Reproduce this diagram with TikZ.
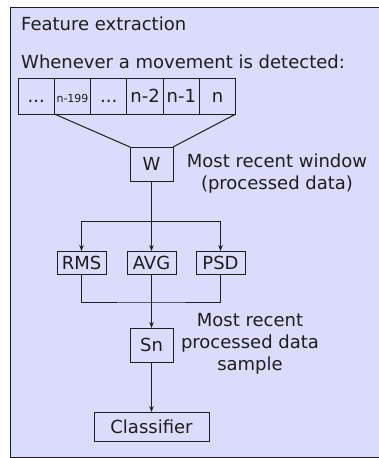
\documentclass[tikz,border=0pt]{standalone}
\usepackage{fontspec}
\setmainfont{DejaVu Sans}
\usetikzlibrary{arrows.meta,positioning}
\definecolor{panel}{RGB}{219,219,251}
\definecolor{ink}{RGB}{30,30,30}

\begin{document}
\begin{tikzpicture}[x=1pt,y=1pt,>={Stealth[length=6pt,width=4.5pt]},
    every node/.style={font=\fontsize{18}{22}\selectfont,text=ink},
    wire/.style={draw=ink,line width=1pt},
    box/.style={wire,inner sep=0pt,outer sep=0pt},
    cell/.style={box,minimum width=36.3pt,minimum height=36pt,text height=13pt,text depth=0pt},
    note/.style={align=center,inner sep=0pt}]

            \useasboundingbox (0,0) rectangle (378,-458);
            \draw[fill=panel,draw=ink,line width=1pt] (10,-7) rectangle (400,-457);

            \node[anchor=base west,inner sep=0pt] (title) at (21,-30) {Feature extraction};
            \node[anchor=base west,inner sep=0pt] (when) at (21,-68) {Whenever a movement is detected:};

            \node[cell] (c1) at (36.2,-96) {...};
            \node[cell,font=\fontsize{11}{13}\selectfont] (c2) [right=0pt of c1] {n-199};
            \node[cell] (c3) [right=0pt of c2] {...};
            \node[cell] (c4) [right=0pt of c3] {n-2};
            \node[cell] (c5) [right=0pt of c4] {n-1};
            \node[cell] (c6) [right=0pt of c5] {n};

            \node[box,minimum width=43pt,minimum height=34pt] (w) at (151.5,-164) {W};
            \node[note] (wnote) at (277,-173.3) {Most recent window\\(processed data)};

            \node[box,minimum width=49pt,minimum height=23pt] (rms) at (81.5,-262.5) {RMS};
            \node[box,minimum width=49pt,minimum height=23pt] (avg) at (151.5,-262.5) {AVG};
            \node[box,minimum width=49pt,minimum height=23pt] (psd) at (220.5,-262.5) {PSD};

            \node[box,minimum width=43pt,minimum height=34pt] (sn) at (151.5,-345) {Sn};
            \node[note] (snnote) at (250,-344.3) {Most recent\\processed data\\sample};

            \node[box,minimum width=115pt,minimum height=29pt] (cls) at (151.5,-426.5) {Classifier};

            \coordinate (split) at (151.5,-221);
            \coordinate (join) at (151.5,-302);

            \path[wire] (c2.south west) edge (w.north west)
                        (c6.south east) edge (w.north east);

            \draw[wire] (w) -- (split);
            \draw[wire,->] (split) -| (rms);
            \draw[wire,->] (split) -- (avg);
            \draw[wire,->] (split) -| (psd);

            \draw[wire] (rms) |- (join) -| (psd);
            \draw[wire,->] (avg) -- (sn);
            \draw[wire,->] (sn) -- (cls);

        \end{tikzpicture}
\end{document}
